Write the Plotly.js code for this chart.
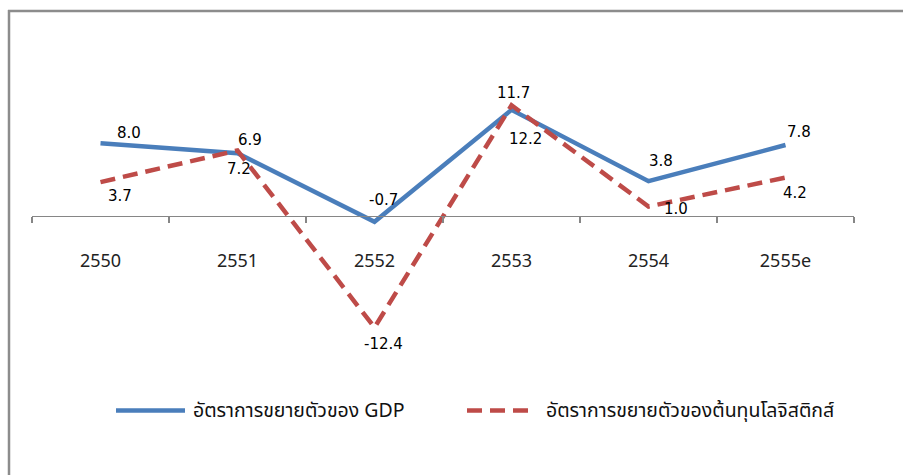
<!DOCTYPE html>
<html>
<head>
<meta charset="utf-8">
<script src="https://cdn.plot.ly/plotly-3.0.1.min.js"></script>
<style>html,body{margin:0;padding:0;background:#fff;}#chart{width:903px;height:475px;}</style>
</head>
<body>
<div id="chart"></div>
<script>
// ---- data ----
const categories = ['2550', '2551', '2552', '2553', '2554', '2555e'];
const gdpGrowth = [8.0, 6.9, -0.7, 11.7, 3.8, 7.8];
const logisticsGrowth = [3.7, 7.2, -12.4, 12.2, 1.0, 4.2];
const seriesNames = ['อัตราการขยายตัวของ GDP', 'อัตราการขยายตัวของต้นทุนโลจิสติกส์'];

// ---- styling / layout constants ----
const W = 903, H = 475;
const M = {l: 32, r: 49, t: 80, b: 124};
const plotW = W - M.l - M.r, plotH = H - M.t - M.b;
const px2x = p => (p - M.l) / plotW;
const py2y = p => 1 - (p - M.t) / plotH;
const blue = '#4A7EBB', red = '#BE4B48', axisGray = '#868686';
const thaiFont = '"Noto Sans Thai", "Noto Sans", "DejaVu Sans", sans-serif';
const labelFont = {family: '"DejaVu Sans", sans-serif', size: 15, color: '#000'};
const dashPattern = '15px,8px';
// label pixel offsets [dx, dy] (screen px, +dy downward)
const gdpLabelOffsets = [[28,-10],[12.5,-13],[8.5,-22],[1.5,-16.5],[12.5,-20],[13.5,-13]];
const logLabelOffsets = [[19,14],[1.5,18.5],[8.5,16.5],[14,33.5],[27.5,2.5],[9,15.5]];

const traces = [
  {x: categories, y: gdpGrowth, name: seriesNames[0], type: 'scatter', mode: 'lines',
   line: {color: blue, width: 4.5}, cliponaxis: false, showlegend: false, hoverinfo: 'skip'},
  {x: categories, y: logisticsGrowth, name: seriesNames[1], type: 'scatter', mode: 'lines',
   line: {color: red, width: 4.5, dash: dashPattern}, cliponaxis: false, showlegend: false, hoverinfo: 'skip'}
];

const annotations = [];
function addLabels(vals, offs) {
  vals.forEach((v, i) => {
    // on a category axis annotations use the category's serial index
    annotations.push({x: i, y: v, xref: 'x', yref: 'y', text: v.toFixed(1),
      showarrow: false, xanchor: 'center', yanchor: 'middle',
      xshift: offs[i][0], yshift: -offs[i][1], font: labelFont});
  });
}
addLabels(gdpGrowth, gdpLabelOffsets);
addLabels(logisticsGrowth, logLabelOffsets);

// legend (manual)
const legendY = 410.5;
const legendFont = {family: thaiFont, size: 19.5, color: '#111'};
annotations.push({xref: 'paper', yref: 'paper', x: px2x(191), y: py2y(legendY), text: seriesNames[0],
  showarrow: false, xanchor: 'left', yanchor: 'middle', font: legendFont});
annotations.push({xref: 'paper', yref: 'paper', x: px2x(544), y: py2y(legendY), text: seriesNames[1],
  showarrow: false, xanchor: 'left', yanchor: 'middle', font: legendFont});

const shapes = [
  // chart border (left and top)
  {type: 'line', xref: 'paper', yref: 'paper', x0: px2x(9), x1: px2x(9), y0: py2y(10), y1: py2y(H + 5),
   line: {color: '#8C8C8C', width: 2.5}},
  {type: 'line', xref: 'paper', yref: 'paper', x0: px2x(8), x1: px2x(W + 5), y0: py2y(11), y1: py2y(11),
   line: {color: '#8C8C8C', width: 2.5}},
  // legend samples
  {type: 'line', xref: 'paper', yref: 'paper', x0: px2x(116), x1: px2x(185), y0: py2y(legendY), y1: py2y(legendY),
   line: {color: blue, width: 4.5}},
  {type: 'line', xref: 'paper', yref: 'paper', x0: px2x(467), x1: px2x(530), y0: py2y(legendY), y1: py2y(legendY),
   line: {color: red, width: 4.5, dash: dashPattern}}
];

const layout = {
  width: W, height: H, autosize: false,
  margin: M,
  paper_bgcolor: '#fff', plot_bgcolor: '#fff',
  showlegend: false,
  xaxis: {type: 'category', range: [-0.5, 5.5], anchor: 'free', position: 0.5,
    showline: true, linecolor: axisGray, linewidth: 1.5,
    ticks: 'outside', ticklen: 6, tickwidth: 1.5, tickcolor: axisGray, tickson: 'boundaries',
    ticklabelstandoff: 28,
    tickfont: {family: '"Noto Sans", sans-serif', size: 18, color: '#222'},
    showgrid: false, zeroline: false, fixedrange: true},
  yaxis: {range: [-15, 15], visible: false, showgrid: false, zeroline: false, fixedrange: true},
  annotations: annotations,
  shapes: shapes
};

Plotly.newPlot('chart', traces, layout, {staticPlot: true, displayModeBar: false});
</script>
</body>
</html>
